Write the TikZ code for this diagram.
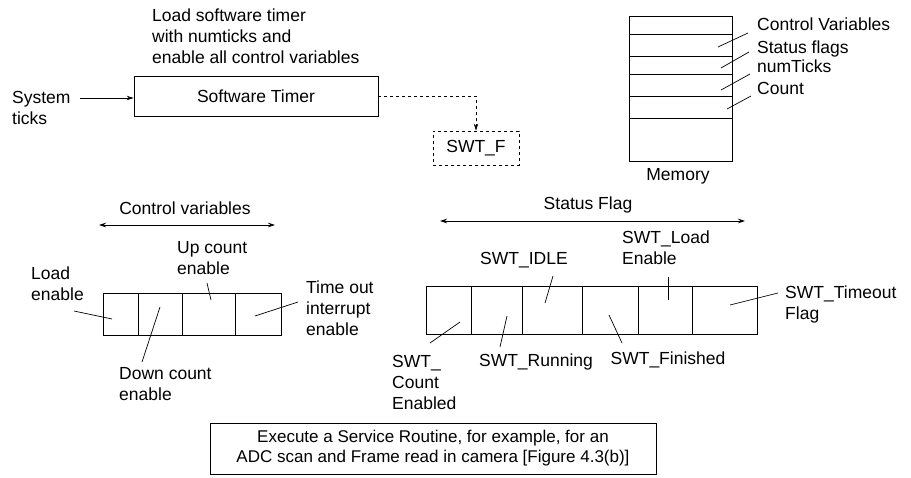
\documentclass[tikz,border=0pt]{standalone}
\usepackage{fontspec}
\setmainfont{Liberation Sans}
\usetikzlibrary{arrows.meta}
\begin{document}
\begin{tikzpicture}[x=1pt,y=-1pt,
  lbl/.style={font=\fontsize{17.5}{21}\selectfont, inner sep=0pt, align=left},
  box/.style={draw, line width=0.8pt, inner sep=0pt, font=\fontsize{17.5}{21}\selectfont},
  cell/.style={draw, line width=0.8pt, inner sep=0pt},
  lead/.style={line width=0.7pt},
  arr/.style={line width=0.7pt, -{Stealth[length=7pt,width=4.5pt]}},
  dbl/.style={line width=0.7pt, {Stealth[length=7pt,width=4.5pt]}-{Stealth[length=7pt,width=4.5pt]}}]
\useasboundingbox (0,0) rectangle (911,477);

% ---------- top left ----------
\node[lbl, anchor=north west] (loadtxt) at (152,9) {Load software timer\\with numticks and\\enable all control variables};
\node[box, minimum width=244pt, minimum height=40pt] (swt) at (256,96) {Software Timer};
\node[lbl, anchor=north west] (sys) at (12,91) {System\\ticks};
\coordinate (sysA) at (80,98);
\draw[arr] (sysA) -- (sysA -| swt.west);
\node[box, dashed, minimum width=86pt, minimum height=34pt] (swtf) at (476,148) {SWT\_F};
\draw[arr, dashed] (swt.east) -| (swtf.north);

% ---------- memory ----------
\node[cell, minimum width=103pt, minimum height=145pt] (mem) at (680.5,88.5) {};
\foreach \yy in {34,56,74,96,118}
  \draw[line width=0.8pt] (mem.west |- 0,\yy) -- (mem.east |- 0,\yy);
\node[lbl, anchor=base] (memlbl) at (678,180) {Memory};
\node[lbl, anchor=base west] (mcv) at (757,30) {Control Variables};
\node[lbl, anchor=base west] (msf) at (757,53) {Status flags};
\node[lbl, anchor=base west] (mnt) at (757,72) {numTicks};
\node[lbl, anchor=base west] (mct) at (757,94) {Count};
\coordinate (m1a) at (748,33); \coordinate (m1b) at (718,47);
\coordinate (m2a) at (749,52); \coordinate (m2b) at (721,68);
\coordinate (m3a) at (750,74); \coordinate (m3b) at (721,90);
\coordinate (m4a) at (751,96); \coordinate (m4b) at (727,109);
\draw[lead] (m1a) -- (m1b);
\draw[lead] (m2a) -- (m2b);
\draw[lead] (m3a) -- (m3b);
\draw[lead] (m4a) -- (m4b);

% ---------- control variables ----------
\node[lbl, anchor=base] (cvt) at (185,214) {Control variables};
\coordinate (cvL) at (99,225); \coordinate (cvR) at (275,225);
\draw[dbl] (cvL) -- (cvR);
\node[cell, minimum width=35pt, minimum height=42pt] (c1) at (120.5,314) {};
\node[cell, minimum width=44pt, minimum height=42pt] (c2) at (160,314) {};
\node[cell, minimum width=53pt, minimum height=42pt] (c3) at (208.5,314) {};
\node[cell, minimum width=46pt, minimum height=42pt] (c4) at (258,314) {};
\node[lbl, anchor=north west] (le) at (31,267) {Load\\enable};
\node[lbl, anchor=north west] (uce) at (177,241) {Up count\\enable};
\node[lbl, anchor=north west] (dce) at (119,367) {Down count\\enable};
\node[lbl, anchor=north west] (toe) at (306,281) {Time out\\interrupt\\enable};
\coordinate (l1a) at (74,311);  \coordinate (l1b) at (112,319);
\coordinate (l2a) at (207,283); \coordinate (l2b) at (211,300);
\coordinate (l3a) at (142,362); \coordinate (l3b) at (160,307);
\coordinate (l4a) at (298,302); \coordinate (l4b) at (255,316);
\draw[lead] (l1a) -- (l1b);
\draw[lead] (l2a) -- (l2b);
\draw[lead] (l3a) -- (l3b);
\draw[lead] (l4a) -- (l4b);

% ---------- status flag ----------
\node[lbl, anchor=base] (sft) at (588,209) {Status Flag};
\coordinate (sfL) at (440,221); \coordinate (sfR) at (745,221);
\draw[dbl] (sfL) -- (sfR);
\node[cell, minimum width=45pt, minimum height=48pt] (s1) at (448.5,310) {};
\node[cell, minimum width=51pt, minimum height=48pt] (s2) at (496.5,310) {};
\node[cell, minimum width=60pt, minimum height=48pt] (s3) at (552,310) {};
\node[cell, minimum width=56pt, minimum height=48pt] (s4) at (610,310) {};
\node[cell, minimum width=54pt, minimum height=48pt] (s5) at (665,310) {};
\node[cell, minimum width=65pt, minimum height=48pt] (s6) at (724.5,310) {};
\node[lbl, anchor=base] (idle) at (524,264) {SWT\_IDLE};
\node[lbl, anchor=north west] (sle) at (622,231) {SWT\_Load\\Enable};
\node[lbl, anchor=north west] (sto) at (785,286) {SWT\_Timeout\\Flag};
\node[lbl, anchor=north west] (sce) at (392,355) {SWT\_\\Count\\Enabled};
\node[lbl, anchor=base] (srun) at (536,366) {SWT\_Running};
\node[lbl, anchor=base] (sfin) at (668,364) {SWT\_Finished};
\coordinate (p1a) at (553,276); \coordinate (p1b) at (545,303);
\coordinate (p2a) at (668,277); \coordinate (p2b) at (668,300);
\coordinate (p3a) at (778,293); \coordinate (p3b) at (730,305);
\coordinate (p4a) at (430,343); \coordinate (p4b) at (460,322);
\coordinate (p5a) at (500,347); \coordinate (p5b) at (507,316);
\coordinate (p6a) at (622,343); \coordinate (p6b) at (609,315);
\draw[lead] (p1a) -- (p1b);
\draw[lead] (p2a) -- (p2b);
\draw[lead] (p3a) -- (p3b);
\draw[lead] (p4a) -- (p4b);
\draw[lead] (p5a) -- (p5b);
\draw[lead] (p6a) -- (p6b);

% ---------- bottom box ----------
\node[box, align=center, font=\fontsize{17}{20}\selectfont, minimum width=446pt, minimum height=51pt] (isr) at (433,448.5)
  {Execute a Service Routine, for example, for an\\ADC scan and Frame read in camera [Figure 4.3(b)]};
\end{tikzpicture}
\end{document}
